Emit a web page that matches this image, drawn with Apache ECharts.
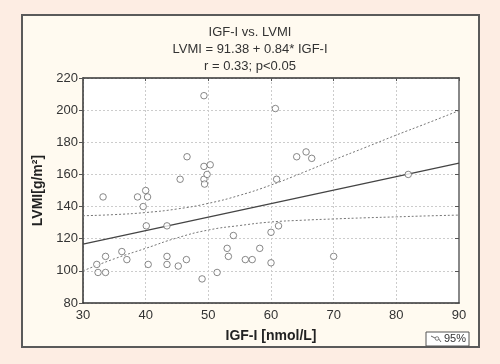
<!DOCTYPE html>
<html><head><meta charset="utf-8">
<script src="https://cdn.jsdelivr.net/npm/echarts@6/dist/echarts.min.js"></script>
<style>html,body{margin:0;padding:0;background:#fdede3;}#c{width:500px;height:364px;}</style>
</head><body><div id="c"></div>
<script>
// Data
var igf = [33.2,38.7,40.0,40.3,39.6,49.3,46.6,45.5,49.3,50.3,49.3,49.8,49.4,
           60.7,64.1,65.6,66.5,60.9,81.9,
           32.2,32.4,33.6,33.6,36.2,37.0,40.1,40.4,43.4,43.4,43.4,45.2,46.5,49.0,51.4,53.0,53.2,54.0,55.9,57.0,
           58.2,60.0,61.2,60.0,70.0];
var lvmi = [146,146,150,146,140,209,171,157,165,166,157,160,154,
            201,171,174,170,157,160,
            104,99,99,109,112,107,128,104,128,109,104,103,107,95,99,114,109,122,107,107,
            114,124,128,105,109];
var regX = [30, 90];
var regY = [116.6, 167.0];
var bandX = [30,35,40,45,50,55,60,65,70,75,80,85,90];
var upperY = [134.3,135.0,136.3,138.5,142.0,147.0,153.4,161.0,169.0,176.7,184.5,192.0,199.7];
var lowerY = [100.0,107.5,114.0,120.5,125.4,128.2,130.4,131.5,132.3,133.0,133.6,134.2,134.7];
var xTicks = [30,40,50,60,70,80,90];
var yTicks = [80,100,120,140,160,180,200,220];
var titleLines = ['IGF-I vs. LVMI','LVMI = 91.38 + 0.84* IGF-I','r = 0.33; p<0.05'];

function zip(a,b){return a.map(function(v,i){return [v,b[i]];});}
var FONT = '"Liberation Sans", Arial, sans-serif';
var chart = echarts.init(document.getElementById('c'));
chart.setOption({
  backgroundColor: '#fdede3',
  animation: false,
  graphic: [
    {type:'rect', z:-10, shape:{x:22,y:15,width:457,height:332}, style:{fill:'#fffaf0', stroke:'#5a5a5a', lineWidth:2}},
    {type:'rect', z:10, shape:{x:426,y:332,width:43,height:14}, style:{fill:'#ffffff', stroke:'#555', lineWidth:1}},
    {type:'polyline', z:11, shape:{points:[[431,336],[435,338],[438,338],[441,342]]}, style:{stroke:'#666', lineWidth:1, fill:null}},
    {type:'circle', z:11, shape:{cx:437,cy:338.5,r:1.8}, style:{stroke:'#666', fill:'#fff', lineWidth:0.8}},
    {type:'text', z:11, style:{x:444,y:339,text:'95%',fill:'#333',font:'11px '+FONT,verticalAlign:'middle'}}
  ],
  title: {
    text: titleLines.join('\n'),
    left: 'center', top: 19,
    textStyle: {fontFamily: FONT, fontSize: 13, fontWeight: 'normal', color: '#333', lineHeight: 17}
  },
  grid: {left: 83, right: 41, top: 78, bottom: 61, show: true, backgroundColor: '#ffffff', borderWidth: 0},
  xAxis: [{
    type: 'value', min: 30, max: 90, interval: 10,
    name: 'IGF-I [nmol/L]', nameLocation: 'middle', nameGap: 26,
    nameTextStyle: {fontFamily: FONT, fontSize: 14, fontWeight: 'bold', color: '#222'},
    axisLine: {lineStyle: {color: '#333', width: 1.5}},
    axisTick: {show: false},
    axisLabel: {fontFamily: FONT, fontSize: 13, color: '#333', margin: 6},
    splitLine: {show: true, lineStyle: {color: '#cccccc', type: [2,2], width: 1}}
  },{
    type: 'value', min: 30, max: 90, interval: 10, position: 'top',
    axisLine: {lineStyle: {color: '#333', width: 1.5}},
    axisTick: {show: true, inside: true, length: 3, lineStyle: {color: '#555'}},
    axisLabel: {show: false}, splitLine: {show: false}
  }],
  yAxis: [{
    type: 'value', min: 80, max: 220, interval: 20,
    name: 'LVMI[g/m\u00b2]', nameLocation: 'middle', nameGap: 29,
    nameTextStyle: {fontFamily: FONT, fontSize: 14, fontWeight: 'bold', color: '#222'},
    axisLine: {lineStyle: {color: '#333', width: 1.5}},
    axisTick: {show: true, inside: false, length: 4, lineStyle: {color: '#555'}},
    axisLabel: {fontFamily: FONT, fontSize: 13, color: '#333', margin: 5},
    splitLine: {show: true, lineStyle: {color: '#cccccc', type: [2,2], width: 1}}
  },{
    type: 'value', min: 80, max: 220, interval: 20, position: 'right',
    axisLine: {lineStyle: {color: '#888', width: 2}},
    axisTick: {show: true, inside: true, length: 4, lineStyle: {color: '#555'}},
    axisLabel: {show: false}, splitLine: {show: false}
  }],
  series: [
    {type: 'line', data: zip(bandX, upperY), smooth: true, symbol: 'none',
     lineStyle: {color: '#777', width: 1, type: [2,2]}},
    {type: 'line', data: zip(bandX, lowerY), smooth: true, symbol: 'none',
     lineStyle: {color: '#777', width: 1, type: [2,2]}},
    {type: 'line', data: zip(regX, regY), symbol: 'none',
     lineStyle: {color: '#444', width: 1.3}},
    {type: 'scatter', data: zip(igf, lvmi), symbol: 'circle', symbolSize: 6.5, z: 5,
     itemStyle: {color: '#ffffff', borderColor: '#6a6a6a', borderWidth: 1}}
  ]
});
</script></body></html>
